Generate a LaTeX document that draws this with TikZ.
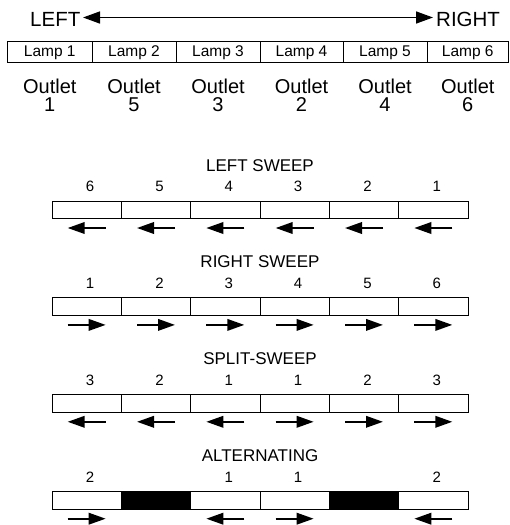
\documentclass[tikz,border=0pt]{standalone}
\usepackage{fontspec}
\setmainfont{Liberation Sans}
\usetikzlibrary{arrows.meta}
\newcommand{\mysweep}[3]{%
  \pgfmathsetmacro\T{201+96.9*#1}%
  \node[titletext, anchor=base] (t#1) at (260,\T-30) {#2};
  \foreach \i/\n/\d/\f in {#3} {
    \pgfmathsetmacro\cx{52+69.333*(\i-0.5)}
    \node[sweepcell, fill=\f] (c#1-\i) at (\cx,\T+8.75) {};
    \ifnum\n=0\else\node[numtext, anchor=base] (n#1-\i) at (\cx+3.5,\T-9.2) {\n};\fi
    \ifnum\d=0\else\draw[sarrow] (\cx-19*\d,\T+27) -- (\cx+19*\d,\T+27);\fi
  }
}
\begin{document}
\begin{tikzpicture}[x=1pt,y=-1pt,
  bigtext/.style={font=\fontsize{20.5}{20.5}\selectfont, inner sep=0pt},
  lamptext/.style={font=\fontsize{15.5}{15.5}\selectfont, inner sep=0pt},
  outlettext/.style={font=\fontsize{20}{20}\selectfont, inner sep=0pt},
  titletext/.style={font=\fontsize{17}{17}\selectfont, inner sep=0pt},
  numtext/.style={font=\fontsize{15}{15}\selectfont, inner sep=0pt},
  sweepcell/.style={draw, line width=1pt, minimum width=69.333pt, minimum height=17.5pt, inner sep=0pt},
  lampcell/.style={draw, line width=1pt, minimum height=20.5pt, inner sep=0pt},
  sarrow/.style={line width=2pt, -{Triangle[length=17pt,width=11.5pt]}},
  toparrow/.style={line width=1.5pt, {Triangle[length=17pt,width=12pt]}-{Triangle[length=17pt,width=12pt]}}]
\useasboundingbox (0,0) rectangle (509,525);
% header
\node[bigtext, anchor=base east] (left) at (80.5,26.7) {LEFT};
\node[bigtext, anchor=base west] (right) at (436,26.7) {RIGHT};
\coordinate (la) at (83,17.5);
\coordinate (ra) at (433,17.5);
\draw[toparrow] (la) -- (ra);
% lamps
\foreach \a/\b/\i/\o in {7.5/92/1/1, 92/176/2/5, 176/260/3/3, 260/343/4/2, 343/427/5/4, 427/508.5/6/6} {
  \pgfmathsetmacro\cx{(\a+\b)/2}
  \node[lampcell, minimum width={(\b-\a)*1pt}] (lc\i) at (\cx,51.75) {};
  \node[lamptext, anchor=base] (lt\i) at (\cx,56.5) {Lamp \i};
  \node[outlettext, anchor=base] (ot\i) at (\cx,93) {Outlet};
  \node[outlettext, anchor=base] (on\i) at (\cx,111.5) {\o};
}
% sweeps
\mysweep{0}{LEFT SWEEP}{1/6/-1/white, 2/5/-1/white, 3/4/-1/white, 4/3/-1/white, 5/2/-1/white, 6/1/-1/white}
\mysweep{1}{RIGHT SWEEP}{1/1/1/white, 2/2/1/white, 3/3/1/white, 4/4/1/white, 5/5/1/white, 6/6/1/white}
\mysweep{2}{SPLIT-SWEEP}{1/3/-1/white, 2/2/-1/white, 3/1/-1/white, 4/1/1/white, 5/2/1/white, 6/3/1/white}
\mysweep{3}{ALTERNATING}{1/2/1/white, 2/0/0/black, 3/1/-1/white, 4/1/1/white, 5/0/0/black, 6/2/-1/white}
\end{tikzpicture}
\end{document}
